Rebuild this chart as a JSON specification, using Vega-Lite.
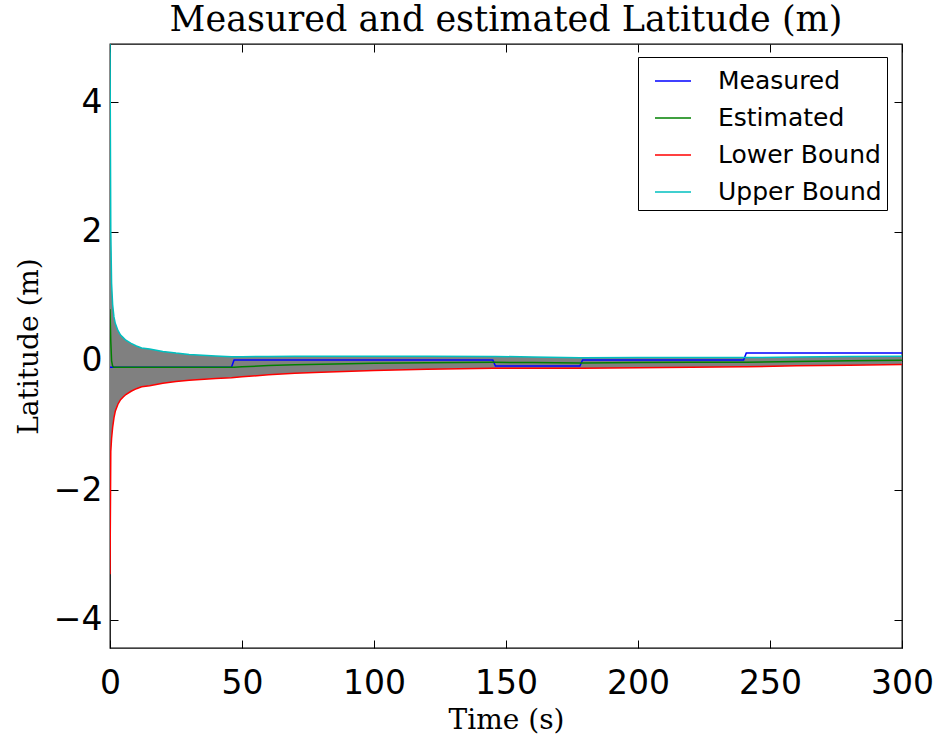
{
  "$schema": "https://vega.github.io/schema/vega-lite/v6.json",
  "autosize": "none",
  "width": 792,
  "height": 604,
  "padding": {"left": 110, "top": 44, "right": 36, "bottom": 90},
  "background": "white",
  "config": {
    "view": {"stroke": "black", "strokeWidth": 1.3},
    "axis": {"grid": false, "domain": false, "tickColor": "black", "tickSize": -8, "tickWidth": 1, "labelFlush": false, "labelFont": "DejaVu Sans", "labelFontSize": 33, "labelColor": "black", "titleFont": "DejaVu Serif", "titleFontSize": 28, "titleFontWeight": "normal", "titleColor": "black"},
    "title": {"font": "DejaVu Serif", "fontSize": 35, "fontWeight": "normal", "color": "black", "anchor": "middle", "offset": 6}
  },
  "title": "Measured and estimated Latitude (m)",
  "data": {"values": [
    {"t": 0, "Measured": -0.1, "Estimated": 0.8, "Lower Bound": -3.3, "Upper Bound": 4.9},
    {"t": 0.3, "Measured": -0.1, "Estimated": 0.3, "Lower Bound": -1.4, "Upper Bound": 2.0},
    {"t": 0.6, "Measured": -0.1, "Estimated": 0.0, "Lower Bound": -1.2, "Upper Bound": 1.2},
    {"t": 1, "Measured": -0.1, "Estimated": -0.08, "Lower Bound": -1.03, "Upper Bound": 0.87},
    {"t": 1.5, "Measured": -0.1, "Estimated": -0.1, "Lower Bound": -0.88, "Upper Bound": 0.68},
    {"t": 2, "Measured": -0.1, "Estimated": -0.1, "Lower Bound": -0.78, "Upper Bound": 0.58},
    {"t": 3, "Measured": -0.1, "Estimated": -0.1, "Lower Bound": -0.67, "Upper Bound": 0.47},
    {"t": 4, "Measured": -0.1, "Estimated": -0.1, "Lower Bound": -0.6, "Upper Bound": 0.4},
    {"t": 5, "Measured": -0.1, "Estimated": -0.1, "Lower Bound": -0.56, "Upper Bound": 0.36},
    {"t": 6, "Measured": -0.1, "Estimated": -0.1, "Lower Bound": -0.52, "Upper Bound": 0.32},
    {"t": 8, "Measured": -0.1, "Estimated": -0.1, "Lower Bound": -0.47, "Upper Bound": 0.27},
    {"t": 10, "Measured": -0.1, "Estimated": -0.1, "Lower Bound": -0.43, "Upper Bound": 0.23},
    {"t": 12, "Measured": -0.1, "Estimated": -0.1, "Lower Bound": -0.4, "Upper Bound": 0.2},
    {"t": 15, "Measured": -0.1, "Estimated": -0.1, "Lower Bound": -0.384, "Upper Bound": 0.184},
    {"t": 20, "Measured": -0.1, "Estimated": -0.1, "Lower Bound": -0.346, "Upper Bound": 0.146},
    {"t": 25, "Measured": -0.1, "Estimated": -0.1, "Lower Bound": -0.32, "Upper Bound": 0.12},
    {"t": 30, "Measured": -0.1, "Estimated": -0.1, "Lower Bound": -0.3, "Upper Bound": 0.1},
    {"t": 40, "Measured": -0.1, "Estimated": -0.1, "Lower Bound": -0.274, "Upper Bound": 0.074},
    {"t": 46, "Measured": -0.1, "Estimated": -0.1, "Lower Bound": -0.262, "Upper Bound": 0.062},
    {"t": 47, "Measured": 0.015, "Estimated": -0.097, "Lower Bound": -0.257, "Upper Bound": 0.063},
    {"t": 50, "Measured": 0.015, "Estimated": -0.091, "Lower Bound": -0.247, "Upper Bound": 0.065},
    {"t": 60, "Measured": 0.015, "Estimated": -0.073, "Lower Bound": -0.215, "Upper Bound": 0.069},
    {"t": 70, "Measured": 0.015, "Estimated": -0.061, "Lower Bound": -0.192, "Upper Bound": 0.07},
    {"t": 80, "Measured": 0.015, "Estimated": -0.051, "Lower Bound": -0.174, "Upper Bound": 0.072},
    {"t": 100, "Measured": 0.015, "Estimated": -0.038, "Lower Bound": -0.148, "Upper Bound": 0.072},
    {"t": 120, "Measured": 0.015, "Estimated": -0.029, "Lower Bound": -0.129, "Upper Bound": 0.071},
    {"t": 145, "Measured": 0.015, "Estimated": -0.022, "Lower Bound": -0.113, "Upper Bound": 0.069},
    {"t": 146, "Measured": -0.08, "Estimated": -0.022, "Lower Bound": -0.113, "Upper Bound": 0.069},
    {"t": 160, "Measured": -0.08, "Estimated": -0.027, "Lower Bound": -0.114, "Upper Bound": 0.06},
    {"t": 178, "Measured": -0.08, "Estimated": -0.032, "Lower Bound": -0.114, "Upper Bound": 0.05},
    {"t": 179, "Measured": 0.015, "Estimated": -0.032, "Lower Bound": -0.114, "Upper Bound": 0.05},
    {"t": 200, "Measured": 0.015, "Estimated": -0.027, "Lower Bound": -0.105, "Upper Bound": 0.051},
    {"t": 220, "Measured": 0.015, "Estimated": -0.023, "Lower Bound": -0.097, "Upper Bound": 0.051},
    {"t": 240, "Measured": 0.015, "Estimated": -0.02, "Lower Bound": -0.091, "Upper Bound": 0.051},
    {"t": 241, "Measured": 0.12, "Estimated": -0.02, "Lower Bound": -0.091, "Upper Bound": 0.051},
    {"t": 260, "Measured": 0.12, "Estimated": -0.009, "Lower Bound": -0.077, "Upper Bound": 0.059},
    {"t": 280, "Measured": 0.12, "Estimated": 0.0, "Lower Bound": -0.066, "Upper Bound": 0.066},
    {"t": 300, "Measured": 0.12, "Estimated": 0.008, "Lower Bound": -0.056, "Upper Bound": 0.072}
  ]},
  "resolve": {"axis": {"x": "independent", "y": "independent"}},
  "layer": [
    {
      "mark": {"type": "area", "color": "#808080", "opacity": 1},
      "encoding": {
        "x": {"field": "t", "type": "quantitative", "scale": {"domain": [0, 300], "nice": false, "zero": false},
              "axis": {"orient": "bottom", "values": [0, 50, 100, 150, 200, 250, 300], "title": "Time (s)", "labelPadding": 27, "titlePadding": 6}},
        "y": {"field": "Lower Bound", "type": "quantitative", "scale": {"domain": [-4.44, 4.9], "nice": false, "zero": false},
              "axis": {"orient": "left", "values": [-4, -2, 0, 2, 4], "title": "Latitude (m)", "labelPadding": 16, "titlePadding": 10}},
        "y2": {"field": "Upper Bound"}
      }
    },
    {
      "transform": [{"fold": ["Measured", "Estimated", "Lower Bound", "Upper Bound"], "as": ["series", "value"]}],
      "mark": {"type": "line", "strokeWidth": 1.5, "clip": true},
      "encoding": {
        "x": {"field": "t", "type": "quantitative", "axis": null},
        "y": {"field": "value", "type": "quantitative", "axis": null},
        "color": {"field": "series", "type": "nominal",
          "scale": {"domain": ["Measured", "Estimated", "Lower Bound", "Upper Bound"], "range": ["#0000ff", "#008000", "#ff0000", "#00bfbf"]},
          "legend": {"title": null, "orient": "none", "legendX": 528, "legendY": 13, "strokeColor": "black", "fillColor": "white", "padding": 5, "cornerRadius": 0,
            "labelFont": "DejaVu Sans", "labelFontSize": 25, "labelColor": "black", "labelLimit": 400, "symbolType": "stroke", "symbolSize": 1296, "symbolStrokeWidth": 1.5, "labelOffset": 26, "rowPadding": 5, "symbolOffset": 11}},
        "order": {"field": "t", "type": "quantitative"}
      }
    },
    {
      "mark": {"type": "line", "opacity": 0},
      "encoding": {
        "x": {"field": "t", "type": "quantitative", "axis": {"orient": "top", "values": [0, 50, 100, 150, 200, 250, 300], "labels": false, "title": null}},
        "y": {"field": "Estimated", "type": "quantitative", "axis": {"orient": "right", "values": [-4, -2, 0, 2, 4], "labels": false, "title": null}}
      }
    }
  ]
}
